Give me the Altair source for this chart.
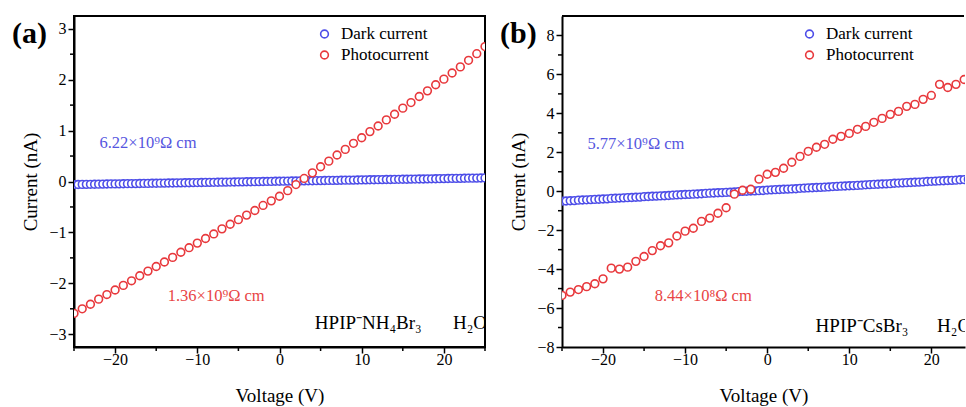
import altair as alt
import pandas as pd

FONT = "Liberation Serif"
BLUE = "#4d4de8"
RED = "#e8383c"
BLUE_TXT = "#5555e0"
RED_TXT = "#e84444"
SERIES = ["Dark current", "Photocurrent"]

# voltage sweeps
volt_dark = [round(-25 + 0.5 * i, 1) for i in range(101)]
volt_photo = list(range(-25, 26))

# (a) HPIP-NH4Br3 H2O
dark_a = [-0.060, -0.059, -0.057, -0.056, -0.055, -0.054, -0.052, -0.051, -0.050, -0.048,
          -0.047, -0.046, -0.044, -0.043, -0.042, -0.041, -0.039, -0.038, -0.037, -0.035,
          -0.034, -0.033, -0.031, -0.030, -0.029, -0.028, -0.026, -0.025, -0.024, -0.022,
          -0.021, -0.020, -0.018, -0.017, -0.016, -0.015, -0.013, -0.012, -0.011, -0.009,
          -0.008, -0.007, -0.005, -0.004, -0.003, -0.002, 0.000, 0.001, 0.002, 0.004,
          0.005, 0.006, 0.008, 0.009, 0.010, 0.011, 0.013, 0.014, 0.015, 0.017,
          0.018, 0.019, 0.021, 0.022, 0.023, 0.024, 0.026, 0.027, 0.028, 0.030,
          0.031, 0.032, 0.034, 0.035, 0.036, 0.037, 0.039, 0.040, 0.041, 0.043,
          0.044, 0.045, 0.047, 0.048, 0.049, 0.050, 0.052, 0.053, 0.054, 0.056,
          0.057, 0.058, 0.060, 0.061, 0.062, 0.063, 0.065, 0.066, 0.067, 0.069, 0.070]
photo_a = [-2.59, -2.50, -2.41, -2.31, -2.22, -2.13, -2.04, -1.95, -1.85, -1.76,
           -1.67, -1.58, -1.49, -1.39, -1.30, -1.21, -1.12, -1.03, -0.93, -0.84,
           -0.75, -0.66, -0.57, -0.47, -0.38, -0.29, -0.18, -0.06, 0.06, 0.17,
           0.29, 0.40, 0.52, 0.63, 0.75, 0.86, 0.98, 1.09, 1.21, 1.32,
           1.44, 1.55, 1.67, 1.78, 1.90, 2.01, 2.13, 2.25, 2.38, 2.51, 2.65]

# (b) HPIP-CsBr3 H2O
dark_b = [-0.51, -0.50, -0.49, -0.48, -0.46, -0.45, -0.44, -0.43, -0.42, -0.41,
          -0.40, -0.39, -0.37, -0.36, -0.35, -0.34, -0.33, -0.32, -0.31, -0.30,
          -0.28, -0.27, -0.26, -0.25, -0.24, -0.23, -0.22, -0.20, -0.19, -0.18,
          -0.17, -0.16, -0.15, -0.14, -0.13, -0.11, -0.10, -0.09, -0.08, -0.07,
          -0.06, -0.05, -0.04, -0.02, -0.01, 0.00, 0.01, 0.02, 0.03, 0.04,
          0.06, 0.07, 0.08, 0.09, 0.10, 0.11, 0.12, 0.13, 0.15, 0.16,
          0.17, 0.18, 0.19, 0.20, 0.21, 0.22, 0.24, 0.25, 0.26, 0.27,
          0.28, 0.29, 0.30, 0.31, 0.33, 0.34, 0.35, 0.36, 0.37, 0.38,
          0.39, 0.41, 0.42, 0.43, 0.44, 0.45, 0.46, 0.47, 0.48, 0.50,
          0.51, 0.52, 0.53, 0.54, 0.55, 0.56, 0.57, 0.59, 0.60, 0.61, 0.62]
photo_b = [-5.35, -5.18, -5.05, -4.90, -4.75, -4.50, -3.95, -4.00, -3.90, -3.60,
           -3.35, -3.05, -2.80, -2.65, -2.30, -2.05, -1.90, -1.55, -1.38, -1.13,
           -0.85, -0.15, 0.05, 0.10, 0.62, 0.87, 0.97, 1.18, 1.49, 1.79,
           2.05, 2.26, 2.41, 2.67, 2.82, 2.97, 3.18, 3.33, 3.54, 3.74,
           3.95, 4.10, 4.36, 4.46, 4.72, 4.92, 5.49, 5.33, 5.49, 5.74, 5.90]

# tick labels / positions
x_major = [-20, -10, 0, 10, 20]
x_minor_a = [-25, -15, -5, 5, 15, 25]
x_minor_b = [-25, -15, -5, 5, 15]
y_major_a = [-3, -2, -1, 0, 1, 2, 3]
y_minor_a = [-2.5, -1.5, -0.5, 0.5, 1.5, 2.5]
y_major_b = [-8, -6, -4, -2, 0, 2, 4, 6, 8]
y_minor_b = [-7, -5, -3, -1, 1, 3, 5, 7]

notes_a = {"V": [-21.9, -13.6], "I": [0.75, -2.24],
           "label": ["6.22×10⁹Ω cm", "1.36×10⁹Ω cm"], "color": [BLUE_TXT, RED_TXT]}
names_a = {"V": [4.3, 21.1], "I": [-2.78, -2.78], "label": ["HPIP⁻NH₄Br₃", "H₂O"]}
notes_b = {"V": [-21.9, -13.7], "I": [2.41, -5.38],
           "label": ["5.77×10⁹Ω cm", "8.44×10⁸Ω cm"], "color": [BLUE_TXT, RED_TXT]}
names_b = {"V": [5.9, 20.7], "I": [-6.92, -6.92], "label": ["HPIP⁻CsBr₃", "H₂O"]}

H = 331


def panel(tag, dark, photo, xmax, width, ydom, ymaj, ymin, xmin_ticks, notes, names,
          full_frame, legend_x):
    rows = [(v, i, SERIES[0]) for v, i in zip(volt_dark, dark)] + \
           [(v, i, SERIES[1]) for v, i in zip(volt_photo, photo)]
    df = pd.DataFrame(rows, columns=["V", "I", "series"])
    xs = alt.Scale(domain=[-25, xmax], nice=False, zero=False)
    ys = alt.Scale(domain=ydom, nice=False, zero=False)
    xaxis = alt.Axis(values=x_major, format="d", title="Voltage (V)",
                     labelPadding=-2, titlePadding=19)
    yaxis = alt.Axis(values=ymaj, format="d", title="Current (nA)",
                     labelPadding=2, titlePadding=8)

    def X():
        return alt.X("V:Q", scale=xs, axis=xaxis)

    def Y():
        return alt.Y("I:Q", scale=ys, axis=yaxis)

    pts = alt.Chart(df).mark_point(
        shape="circle", filled=True, fill="white", size=60, strokeWidth=1.6,
        opacity=1, clip=True
    ).encode(
        x=X(), y=Y(),
        stroke=alt.Stroke("series:N", scale=alt.Scale(domain=SERIES, range=[BLUE, RED]),
                          legend=alt.Legend(title=None, orient="none", legendX=legend_x,
                                            legendY=9.5, symbolType="circle", symbolSize=60,
                                            symbolStrokeWidth=1.6, symbolFillColor="white",
                                            labelFont=FONT, labelFontSize=17, labelColor="black",
                                            padding=0, rowPadding=3, labelOffset=8)),
    )
    txt = alt.Chart(pd.DataFrame(notes)).mark_text(
        align="left", baseline="middle", font=FONT, fontSize=16.5, clip=True
    ).encode(
        x=X(), y=Y(), text="label:N", color=alt.Color("color:N", scale=None),
    )
    nm = alt.Chart(pd.DataFrame(names)).mark_text(
        align="left", baseline="middle", font=FONT, fontSize=19, color="black", clip=True
    ).encode(x=X(), y=Y(), text="label:N")
    mx = alt.Chart(pd.DataFrame({"V": xmin_ticks})).mark_rule(color="black", strokeWidth=1.5).encode(
        x=X(), y=alt.value(H), y2=alt.value(H + 4)
    )
    my = alt.Chart(pd.DataFrame({"I": ymin})).mark_rule(color="black", strokeWidth=1.5).encode(
        y=Y(), x=alt.value(0), x2=alt.value(-4)
    )
    lab = alt.Chart(pd.DataFrame({"t": [tag]})).mark_text(
        align="left", baseline="middle", font=FONT, fontSize=30, fontWeight="bold", color="black"
    ).encode(x=alt.value(-62), y=alt.value(18), text="t:N")
    layers = [pts, txt, nm, mx, my, lab]
    if full_frame:
        view = alt.ViewBackground(stroke="black", strokeWidth=2)
    else:
        view = alt.ViewBackground(stroke="transparent")
        top = alt.Chart(pd.DataFrame({"a": [0]})).mark_rule(color="black", strokeWidth=2).encode(
            x=alt.value(0), x2=alt.value(width - 1), y=alt.value(0)
        )
        layers.append(top)
    return alt.layer(*layers).properties(width=width, height=H, view=view)


pa = panel("(a)", dark_a, photo_a, 25, 411, [-3.25, 3.25], y_major_a, y_minor_a, x_minor_a,
           notes_a, names_a, True, 242)
pb = panel("(b)", dark_b, photo_b, 24.1, 403, [-8, 9], y_major_b, y_minor_b, x_minor_b,
           notes_b, names_b, False, 239)

chart = alt.hconcat(pa, pb, spacing=77, bounds="flush").resolve_scale(
    stroke="independent"
).resolve_legend(stroke="independent").configure(
    padding={"left": 11, "top": 14, "right": 0, "bottom": 0}
).configure_axis(
    domainColor="black", domainWidth=2, tickColor="black", tickWidth=1.5, tickSize=6,
    labelFont=FONT, labelFontSize=16, labelColor="black", titleFont=FONT, titleFontSize=19,
    titleFontWeight="normal", titleColor="black", grid=False, labelOverlap=False,
    labelFlush=False, labelBound=False
)

chart.save("out.html", embed_options={"renderer": "svg", "actions": False})
